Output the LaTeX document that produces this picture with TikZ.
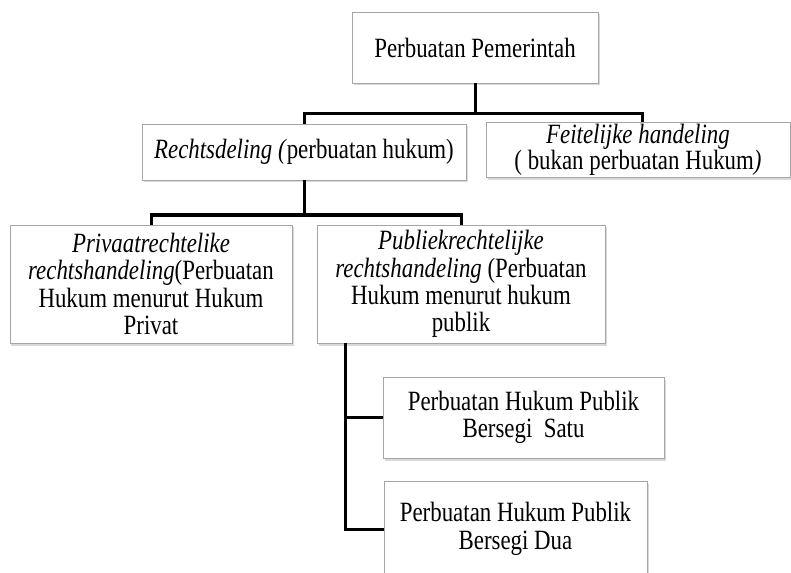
\documentclass[tikz,border=0pt]{standalone}
\usepackage{fontspec}
\setmainfont{Liberation Serif}[FakeStretch=0.82]
\usetikzlibrary{shadows, positioning}

\begin{document}
\begin{tikzpicture}[x=1bp, y=-1bp,
    box/.style={draw=gray!70, line width=0.8bp, fill=white, inner sep=0pt, align=center,
        font=\fontsize{28}{27.5}\selectfont,
        drop shadow={shadow xshift=1.5bp, shadow yshift=-2.5bp, opacity=0.3}},
    conn/.style={line width=3bp}]
    \useasboundingbox (0,0) rectangle (791,573);
    \clip (0,0) rectangle (791,573);

    % Boxes
    \node[box, minimum width=246bp, minimum height=71bp] (pemerintah) at (475,47.5) {Perbuatan Pemerintah};
    \node[box, minimum width=324bp, minimum height=56bp] (rechts) at (304,152) {\textit{Rechtsdeling (}perbuatan hukum)};
    \node[box, minimum width=304bp, minimum height=55bp, font=\fontsize{28}{24}\selectfont] (feit) at (638,150) {\textit{Feitelijke handeling}\\( bukan perbuatan Hukum\textit{)}};
    \node[box, minimum width=282bp, minimum height=118bp] (privaat) at (151,284) {\textit{Privaatrechtelike}\\\textit{rechtshandeling}(Perbuatan\\Hukum menurut Hukum\\Privat};
    \node[box, minimum width=288bp, minimum height=118bp] (publiek) at (461,284) {\textit{Publiekrechtelijke}\\\textit{rechtshandeling} (Perbuatan\\Hukum menurut hukum\\publik};
    \node[box, minimum width=281bp, minimum height=81bp] (satu) at (523.5,417.5) {Perbuatan Hukum Publik\\Bersegi\ \ Satu};
    \node[box, minimum width=263bp, minimum height=96bp] (dua) at (515.5,529) {Perbuatan Hukum Publik\\Bersegi\ Dua};

    % Connectors
    \coordinate (jTop) at (475,114);
    \coordinate (jMid) at (304,215);
    \coordinate (jLow) at ([xshift=29bp]publiek.south west);
    \draw[conn] (pemerintah.south) -- (jTop);
    \draw[conn] (rechts.north) |- (jTop) -| ([xshift=4bp]feit.north);
    \draw[conn] (rechts.south) -- (jMid);
    \draw[conn] (privaat.north) |- (jMid) -| (publiek.north);
    \draw[conn] (satu.west) -| (jLow);
    \draw[conn] (jLow) |- (dua.west);
\end{tikzpicture}
\end{document}
